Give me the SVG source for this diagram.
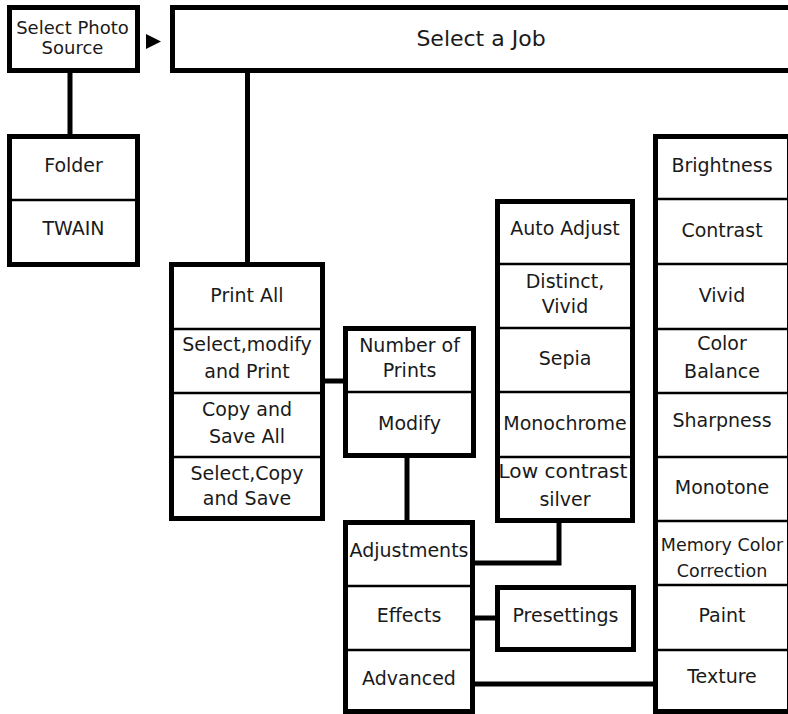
<svg xmlns="http://www.w3.org/2000/svg" width="788" height="714" viewBox="0 0 788 714">
<style>
.box{fill:#fff;stroke:#000;stroke-width:5}
.div{stroke:#000;stroke-width:2.5}
.con{fill:none;stroke:#000;stroke-width:5;stroke-linejoin:miter;stroke-linecap:butt}
text{font-family:"DejaVu Sans","Liberation Sans",sans-serif;font-size:19px;fill:#1a1a1a;text-anchor:middle}
.sm{font-size:18px}
.md{font-size:17.5px}
.lg{font-size:22px}
</style>
<rect width="788" height="714" fill="#fff"/>
<g id="connectors">
<line class="con" x1="70" y1="72" x2="70" y2="135"/>
<line class="con" x1="247.5" y1="72" x2="247.5" y2="263"/>
<line class="con" x1="324" y1="381" x2="344" y2="381"/>
<line class="con" x1="407" y1="457" x2="407" y2="521"/>
<polyline class="con" points="559,522 559,563 474,563"/>
<line class="con" x1="474" y1="618" x2="496" y2="618"/>
<line class="con" x1="474" y1="684" x2="654" y2="684"/>
<polygon points="146,34 161,41.5 146,49" fill="#000"/>
</g>
<g id="select-photo-source">
<rect class="box" x="9.5" y="7.5" width="128" height="63"/>
<text class="sm" x="72.5" y="34">Select Photo</text>
<text class="sm" x="72.5" y="54">Source</text>
</g>
<g id="select-a-job">
<rect class="box" x="172.5" y="7.5" width="620" height="63"/>
<text class="lg" x="481" y="46">Select a Job</text>
</g>
<g id="source-list">
<rect class="box" x="9.5" y="136.5" width="128" height="128"/>
<line class="div" x1="9.5" y1="200" x2="137.5" y2="200"/>
<text x="73.5" y="172">Folder</text>
<text x="73.5" y="235">TWAIN</text>
</g>
<g id="job-list">
<rect class="box" x="171.5" y="264.5" width="151" height="254"/>
<line class="div" x1="171.5" y1="329" x2="322.5" y2="329"/>
<line class="div" x1="171.5" y1="393" x2="322.5" y2="393"/>
<line class="div" x1="171.5" y1="457" x2="322.5" y2="457"/>
<text x="247" y="302">Print All</text>
<text x="247" y="351">Select,modify</text>
<text x="247" y="378">and Print</text>
<text x="247" y="416">Copy and</text>
<text x="247" y="443">Save All</text>
<text x="247" y="480">Select,Copy</text>
<text x="247" y="505">and Save</text>
</g>
<g id="print-options">
<rect class="box" x="345.5" y="328.5" width="128" height="127"/>
<line class="div" x1="345.5" y1="392" x2="473.5" y2="392"/>
<text x="409.5" y="352">Number of</text>
<text x="409.5" y="377">Prints</text>
<text x="409.5" y="430">Modify</text>
</g>
<g id="auto-list">
<rect class="box" x="497.5" y="201.5" width="135" height="319"/>
<line class="div" x1="497.5" y1="264" x2="632.5" y2="264"/>
<line class="div" x1="497.5" y1="328" x2="632.5" y2="328"/>
<line class="div" x1="497.5" y1="392" x2="632.5" y2="392"/>
<line class="div" x1="497.5" y1="457" x2="632.5" y2="457"/>
<text x="565" y="235">Auto Adjust</text>
<text x="565" y="288">Distinct,</text>
<text x="565" y="313">Vivid</text>
<text x="565" y="365">Sepia</text>
<text x="565" y="430">Monochrome</text>
<text x="563" y="478" textLength="129" lengthAdjust="spacingAndGlyphs">Low contrast</text>
<text x="565" y="506">silver</text>
</g>
<g id="modify-list">
<rect class="box" x="345.5" y="522.5" width="127" height="189"/>
<line class="div" x1="345.5" y1="586" x2="472.5" y2="586"/>
<line class="div" x1="345.5" y1="650" x2="472.5" y2="650"/>
<text x="409" y="557">Adjustments</text>
<text x="409" y="622">Effects</text>
<text x="409" y="685">Advanced</text>
</g>
<g id="presettings">
<rect class="box" x="497.5" y="587.5" width="136" height="62"/>
<text x="565.5" y="622">Presettings</text>
</g>
<g id="advanced-list">
<rect class="box" x="655.5" y="136.5" width="134" height="575"/>
<line class="div" x1="655.5" y1="199" x2="789.5" y2="199"/>
<line class="div" x1="655.5" y1="264" x2="789.5" y2="264"/>
<line class="div" x1="655.5" y1="329" x2="789.5" y2="329"/>
<line class="div" x1="655.5" y1="393" x2="789.5" y2="393"/>
<line class="div" x1="655.5" y1="457" x2="789.5" y2="457"/>
<line class="div" x1="655.5" y1="521" x2="789.5" y2="521"/>
<line class="div" x1="655.5" y1="585" x2="789.5" y2="585"/>
<line class="div" x1="655.5" y1="650" x2="789.5" y2="650"/>
<text x="722" y="172">Brightness</text>
<text x="722" y="237">Contrast</text>
<text x="722" y="302">Vivid</text>
<text x="722" y="350">Color</text>
<text x="722" y="378">Balance</text>
<text x="722" y="427">Sharpness</text>
<text x="722" y="494">Monotone</text>
<text class="md" x="722" y="551">Memory Color</text>
<text class="md" x="722" y="577">Correction</text>
<text x="722" y="622">Paint</text>
<text x="722" y="683">Texture</text>
</g>
</svg>
